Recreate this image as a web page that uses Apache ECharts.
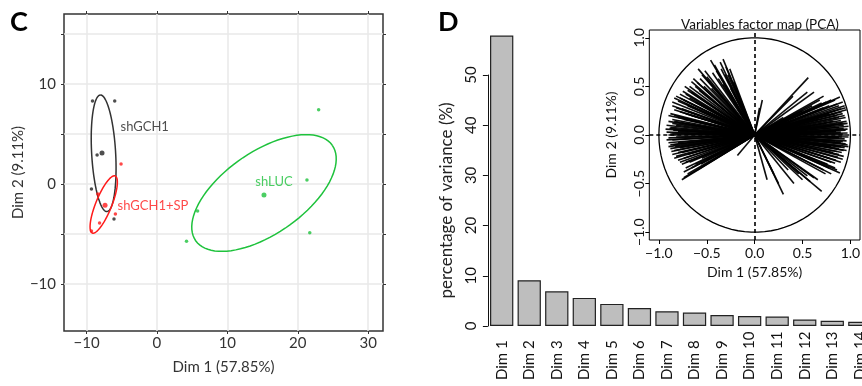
<!DOCTYPE html>
<html>
<head>
<meta charset="utf-8">
<script src="https://cdn.jsdelivr.net/npm/echarts@6/dist/echarts.min.js"></script>
<style>
  html, body { margin: 0; padding: 0; background: #fff; }
  #chart { width: 862px; height: 386px; }
</style>
</head>
<body>
<div id="chart"></div>
<script>
// ---- panel C : individuals factor map ----
var shGCH1 = [[-9.15, 8.3], [-6.0, 8.3], [-8.5, 2.9], [-9.3, -0.5], [-6.1, -3.5]];
var shGCH1SP = [[-5.1, 2.0], [-8.4, -1.0], [-5.9, -3.0], [-8.15, -3.9], [-9.3, -4.7]];
var shLUC = [[22.96, 7.43], [21.3, 0.4], [5.77, -2.7], [21.7, -4.87], [4.2, -5.73]];
var groupMeans = [
  { name: 'shGCH1', value: [-7.8, 3.1] },
  { name: 'shGCH1+SP', value: [-7.37, -2.12] },
  { name: 'shLUC', value: [15.2, -1.1] }
];
// confidence ellipses: centre, two half-axis vectors (data units)
var ellGCH1 = { c: [-7.57, 3.07], a: [-0.47, 5.83], b: [1.70, 0.07] };
var ellGCH1SP = { c: [-7.56, -2.05], a: [1.63, 2.85], b: [1.05, -0.3] };
var ellLUC = { c: [15.2, -0.9], a: [9.70, 4.77], b: [3.34, -3.36] };
var cXTicks = [-10, 0, 10, 20, 30];
var cYTicks = [-10, -5, 0, 5, 10, 15];
var cYLabels = [-10, 0, 10];

// ---- panel D : scree plot ----
var dims = ['Dim 1', 'Dim 2', 'Dim 3', 'Dim 4', 'Dim 5', 'Dim 6', 'Dim 7',
  'Dim 8', 'Dim 9', 'Dim 10', 'Dim 11', 'Dim 12', 'Dim 13', 'Dim 14'];
var variance = [57.85, 9.11, 6.9, 5.6, 4.4, 3.6, 2.95, 2.7, 2.2, 2.0, 1.9, 1.3, 1.05, 0.85];

// ---- inset : variables factor map (arrow tips) ----
var varLoadings = [
  [-0.33, 0.78], [-0.36, 0.75], [-0.30, 0.70], [-0.46, 0.77], [-0.42, 0.72], [-0.40, 0.66],
  [-0.26, 0.68], [-0.28, 0.62], [-0.22, 0.55], [-0.59, 0.68], [-0.55, 0.62], [-0.50, 0.60],
  [-0.48, 0.55], [-0.38, 0.58], [-0.33, 0.52], [-0.66, 0.55], [-0.73, 0.50], [-0.70, 0.46],
  [-0.62, 0.50], [-0.58, 0.46], [-0.45, 0.48], [-0.78, 0.42], [-0.84, 0.38], [-0.80, 0.35],
  [-0.74, 0.36], [-0.68, 0.38], [-0.62, 0.34], [-0.86, 0.30], [-0.82, 0.28], [-0.76, 0.27],
  [-0.70, 0.30], [-0.88, 0.22], [-0.84, 0.20], [-0.80, 0.18], [-0.72, 0.22], [-0.66, 0.20],
  [-0.90, 0.14], [-0.86, 0.12], [-0.82, 0.10], [-0.76, 0.12], [-0.89, 0.07], [-0.85, 0.05],
  [-0.80, 0.04], [-0.92, 0.03], [-0.88, 0.01],
  [-0.35, 0.68], [-0.31, 0.62], [-0.25, 0.48], [-0.44, 0.64], [-0.52, 0.66], [-0.57, 0.58],
  [-0.64, 0.58], [-0.60, 0.54], [-0.53, 0.50], [-0.68, 0.50], [-0.75, 0.45], [-0.72, 0.42],
  [-0.66, 0.44], [-0.82, 0.40], [-0.78, 0.38], [-0.72, 0.32], [-0.86, 0.34], [-0.84, 0.26],
  [-0.78, 0.24], [-0.90, 0.20], [-0.86, 0.16], [-0.74, 0.16], [-0.92, 0.10], [-0.88, 0.08],
  [-0.84, 0.14], [-0.93, 0.06], [-0.90, 0.00], [-0.86, 0.02],
  [-0.90, -0.03], [-0.86, -0.05], [-0.82, -0.02], [-0.90, -0.08], [-0.85, -0.10], [-0.80, -0.08],
  [-0.88, -0.14], [-0.84, -0.16], [-0.78, -0.13], [-0.86, -0.20], [-0.82, -0.22], [-0.76, -0.18],
  [-0.80, -0.26], [-0.74, -0.24], [-0.70, -0.20], [-0.76, -0.30], [-0.68, -0.28], [-0.72, -0.34],
  [-0.62, -0.30], [-0.76, -0.46], [-0.74, -0.44], [-0.60, -0.36], [-0.18, -0.21], [-0.55, -0.24],
  [-0.92, -0.05], [-0.88, -0.10], [-0.83, -0.12], [-0.90, -0.12], [-0.87, -0.17], [-0.80, -0.18],
  [-0.84, -0.24], [-0.78, -0.28], [-0.72, -0.28], [-0.74, -0.38], [-0.66, -0.34], [-0.70, -0.40],
  [-0.56, -0.30], [-0.50, -0.26],
  [0.08, 0.36], [0.05, 0.28],
  [0.56, 0.59], [0.40, 0.40], [0.55, 0.44], [0.72, 0.40], [0.89, 0.39], [0.80, 0.36],
  [0.70, 0.33], [0.60, 0.30], [0.92, 0.34], [0.86, 0.32], [0.78, 0.30], [0.94, 0.30],
  [0.90, 0.27], [0.84, 0.25], [0.96, 0.26], [0.92, 0.22], [0.86, 0.20], [0.78, 0.22],
  [0.70, 0.20], [0.95, 0.18], [0.90, 0.15], [0.82, 0.14], [0.97, 0.12], [0.93, 0.10],
  [0.88, 0.08], [0.80, 0.09], [0.98, 0.09], [0.95, 0.05], [0.90, 0.03], [0.85, 0.04],
  [0.97, 0.02], [0.92, 0.01], [0.75, 0.12], [0.66, 0.16], [0.30, 0.18], [0.50, 0.25],
  [0.62, 0.44], [0.68, 0.36], [0.75, 0.34], [0.84, 0.36], [0.88, 0.30], [0.91, 0.24],
  [0.94, 0.20], [0.88, 0.18], [0.84, 0.22], [0.96, 0.14], [0.92, 0.12], [0.86, 0.11],
  [0.97, 0.06], [0.93, 0.07], [0.88, 0.05], [0.95, 0.28], [0.72, 0.28], [0.64, 0.24],
  [0.98, -0.02], [0.94, -0.04], [0.88, -0.03], [0.98, -0.12], [0.95, -0.09], [0.90, -0.08],
  [0.84, -0.06], [0.93, -0.16], [0.88, -0.14], [0.80, -0.12], [0.93, -0.22], [0.88, -0.20],
  [0.82, -0.18], [0.90, -0.28], [0.85, -0.26], [0.78, -0.24], [0.89, -0.39], [0.84, -0.34],
  [0.76, -0.30], [0.80, -0.40], [0.72, -0.36], [0.70, -0.58], [0.62, -0.44], [0.55, -0.42],
  [0.41, -0.50], [0.46, -0.40], [0.30, -0.61], [0.25, -0.50], [0.13, -0.46], [0.20, -0.40],
  [0.35, -0.36],
  [0.95, 0.00], [0.91, -0.02], [0.96, -0.06], [0.92, -0.07], [0.97, -0.10], [0.94, -0.13],
  [0.90, -0.12], [0.96, -0.16], [0.91, -0.18], [0.86, -0.17], [0.92, -0.25], [0.87, -0.23],
  [0.84, -0.29], [0.80, -0.28], [0.86, -0.36], [0.78, -0.34], [0.74, -0.40], [0.66, -0.46],
  [0.58, -0.48], [0.50, -0.46]
];
var insetTicks = [-1, -0.5, 0, 0.5, 1];
var unitCircle = { c: [0, 0], a: [1, 0], b: [0, 1] };

var FONT = 'Lato, "Open Sans", sans-serif';
var minus = function (v) { return String(v).replace('-', '\u2212'); };
var oneDec = function (v) { return v.toFixed(1).replace('-', '\u2212'); };

function ellipse(xi, yi, e, color, width) {
  return {
    type: 'custom', xAxisIndex: xi, yAxisIndex: yi, silent: true, clip: false, z: 3,
    data: [[e.c[0], e.c[1]]],
    renderItem: function (params, api) {
      var pts = [];
      for (var k = 0; k <= 90; k++) {
        var t = k / 90 * Math.PI * 2;
        pts.push(api.coord([
          e.c[0] + Math.cos(t) * e.a[0] + Math.sin(t) * e.b[0],
          e.c[1] + Math.cos(t) * e.a[1] + Math.sin(t) * e.b[1]
        ]));
      }
      return { type: 'polyline', shape: { points: pts }, style: { fill: null, stroke: color, lineWidth: width } };
    }
  };
}

function pts(data, color) {
  return { type: 'scatter', xAxisIndex: 0, yAxisIndex: 0, data: data, symbolSize: 3.5,
    itemStyle: { color: color }, silent: true, z: 4 };
}

var black = '#222', red = '#ff1a1a', green = '#1ec23c';
var meanColors = [black, red, green];
var meanLabelPos = [['right', [11, -26]], ['right', [5, 1]], ['top', [10, 1]]];

var chart = echarts.init(document.getElementById('chart'), null, { renderer: 'canvas' });

// axes without lines that must stay at the grid edge
var noLine = { show: false, onZero: false };

var option = {
  backgroundColor: '#fff',
  animation: false,
  textStyle: { fontFamily: FONT },
  graphic: [
    { type: 'text', left: 10, top: 9, style: { text: 'C', font: 'bold 27px ' + FONT, fill: '#000' } },
    { type: 'text', left: 438, top: 9, style: { text: 'D', font: 'bold 27px ' + FONT, fill: '#000' } }
  ],
  title: {
    text: 'Variables factor map (PCA)', left: 755, top: 13, textAlign: 'center',
    textStyle: { fontSize: 13.5, fontWeight: 'normal', color: '#111', fontFamily: FONT }
  },
  grid: [
    { left: 64, top: 14, right: 479, bottom: 55, show: true, backgroundColor: '#fff',
      borderColor: '#333', borderWidth: 1.5, outerBoundsMode: 'none' },
    { left: 487.9, top: 75, width: 385.7, height: 251, outerBoundsMode: 'none' },
    { left: 649.3, top: 30, width: 210.7, height: 210, show: true, backgroundColor: '#fff',
      borderColor: '#000', borderWidth: 1, outerBoundsMode: 'none' }
  ],
  xAxis: [
    { type: 'value', gridIndex: 0, min: -13.2, max: 32.1,
      axisLine: noLine,
      axisTick: { customValues: cXTicks, length: 3, lineStyle: { color: '#333' } },
      axisLabel: { customValues: cXTicks, formatter: minus, fontSize: 15, color: '#333', margin: 5, fontFamily: FONT },
      splitLine: { show: true, lineStyle: { color: '#e8e8e8', width: 1.5 } },
      name: 'Dim 1 (57.85%)', nameLocation: 'middle', nameGap: 29,
      nameTextStyle: { fontSize: 15, color: '#333', fontFamily: FONT } },
    { type: 'value', gridIndex: 0, position: 'top', min: -13.2, max: 32.1,
      axisLine: noLine,
      axisTick: { customValues: cXTicks, length: 3, lineStyle: { color: '#333' } },
      axisLabel: { show: false }, splitLine: { show: false } },
    { type: 'category', gridIndex: 1, data: dims,
      axisLine: noLine, axisTick: { show: false },
      axisLabel: { rotate: 90, align: 'left', margin: 54, fontSize: 15, color: '#111', interval: 0, fontFamily: FONT } },
    { type: 'value', gridIndex: 2, min: -1.1, max: 1.1,
      axisLine: noLine,
      axisTick: { customValues: insetTicks, length: 4, lineStyle: { color: '#000' } },
      axisLabel: { customValues: insetTicks, formatter: oneDec, fontSize: 14, color: '#111', margin: 6, fontFamily: FONT },
      splitLine: { show: false },
      name: 'Dim 1 (57.85%)', nameLocation: 'middle', nameGap: 25,
      nameTextStyle: { fontSize: 14, color: '#111', fontFamily: FONT } }
  ],
  yAxis: [
    { type: 'value', gridIndex: 0, min: -14.7, max: 17,
      axisLine: noLine,
      axisTick: { customValues: cYTicks, length: 3, lineStyle: { color: '#333' } },
      axisLabel: { customValues: cYLabels, formatter: minus, fontSize: 15, color: '#333', margin: 8, fontFamily: FONT },
      splitLine: { show: true, lineStyle: { color: '#e8e8e8', width: 1.5 } },
      name: 'Dim 2 (9.11%)', nameLocation: 'middle', nameGap: 31,
      nameTextStyle: { fontSize: 15, color: '#333', fontFamily: FONT } },
    { type: 'value', gridIndex: 0, position: 'right', min: -14.7, max: 17,
      axisLine: noLine,
      axisTick: { customValues: cYTicks, length: 3, lineStyle: { color: '#333' } },
      axisLabel: { show: false }, splitLine: { show: false } },
    { type: 'value', gridIndex: 1, min: 0, max: 50, interval: 10,
      axisLine: { show: true, onZero: false, lineStyle: { color: '#111', width: 1 } },
      axisTick: { show: true, length: 5, lineStyle: { color: '#111' } },
      axisLabel: { rotate: 90, fontSize: 15, color: '#111', margin: 9, fontFamily: FONT },
      splitLine: { show: false },
      name: 'percentage of variance (%)', nameLocation: 'middle', nameGap: 33,
      nameTextStyle: { fontSize: 17, color: '#222', fontFamily: FONT } },
    { type: 'value', gridIndex: 2, min: -1.08, max: 1.08,
      axisLine: noLine,
      axisTick: { customValues: insetTicks, length: 4, lineStyle: { color: '#000' } },
      axisLabel: { customValues: insetTicks, formatter: oneDec, rotate: 90, fontSize: 14, color: '#111', margin: 3, fontFamily: FONT },
      splitLine: { show: false },
      name: 'Dim 2 (9.11%)', nameLocation: 'middle', nameGap: 31,
      nameTextStyle: { fontSize: 14, color: '#111', fontFamily: FONT } }
  ],
  series: [
    ellipse(0, 0, ellGCH1, '#333', 1.5),
    ellipse(0, 0, ellGCH1SP, red, 1.5),
    ellipse(0, 0, ellLUC, green, 1.5),
    pts(shGCH1, black),
    pts(shGCH1SP, red),
    pts(shLUC, green),
    { type: 'scatter', xAxisIndex: 0, yAxisIndex: 0, symbolSize: 5, silent: true, z: 5,
      data: groupMeans.map(function (m, i) {
        return { name: m.name, value: m.value, itemStyle: { color: meanColors[i] },
          label: { show: true, formatter: '{b}', position: meanLabelPos[i][0], offset: meanLabelPos[i][1],
            color: meanColors[i], fontSize: 13, fontFamily: FONT } };
      }) },
    { type: 'bar', xAxisIndex: 2, yAxisIndex: 2, data: variance, barWidth: 23.3, clip: false, silent: true,
      itemStyle: { color: '#bebebe', borderColor: '#222', borderWidth: 1.2 } },
    ellipse(3, 3, unitCircle, '#000', 1.3),
    { type: 'lines', coordinateSystem: 'cartesian2d', xAxisIndex: 3, yAxisIndex: 3, silent: true, z: 4,
      lineStyle: { color: '#000', width: 1.6, opacity: 0.95 },
      data: varLoadings.map(function (p) { return { coords: [[0, 0], p] }; }) },
    { type: 'scatter', xAxisIndex: 3, yAxisIndex: 3, data: [], silent: true,
      markLine: { silent: true, symbol: 'none', label: { show: false },
        lineStyle: { color: '#000', type: [4, 3], width: 1.6 },
        data: [{ xAxis: 0 }, { yAxis: 0 }] } }
  ]
};

chart.setOption(option);
</script>
</body>
</html>
